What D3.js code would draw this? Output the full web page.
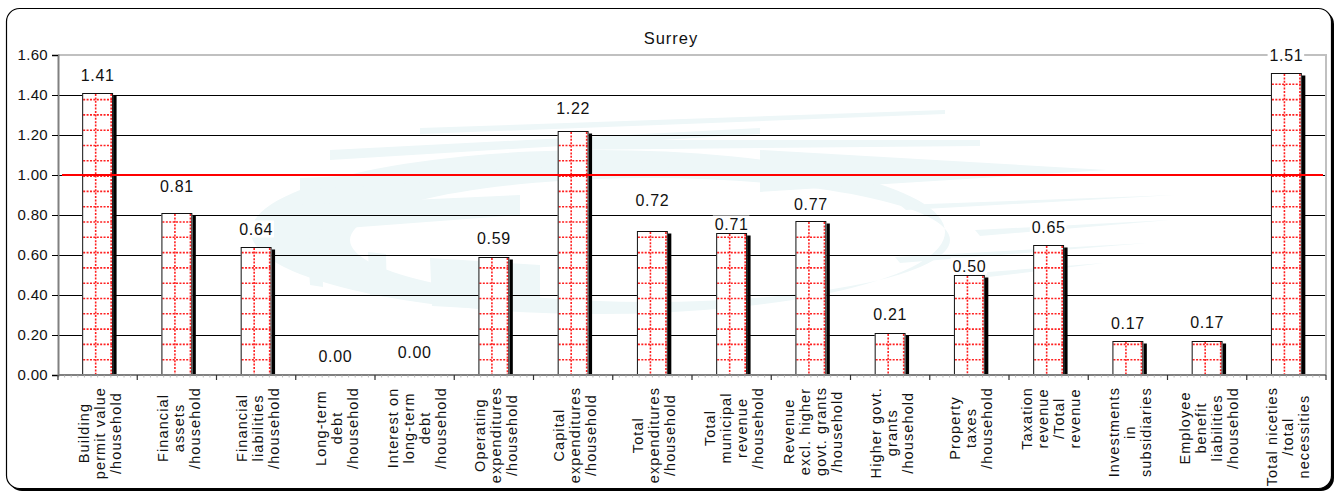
<!DOCTYPE html>
<html>
<head>
<meta charset="utf-8">
<script src="https://cdn.jsdelivr.net/npm/d3@7"></script>
<style>
  html, body { margin: 0; padding: 0; background: #ffffff; }
  svg { display: block; }
  text { font-family: "Liberation Sans", Arial, sans-serif; fill: #111; }
</style>
</head>
<body>
<svg id="chart" width="1338" height="494"></svg>
<script>
// ---- data ----
const chartTitle = "Surrey";
const categories = [
  ["Building", "permit value", "/household"],
  ["Financial", "assets", "/household"],
  ["Financial", "liabilities", "/household"],
  ["Long-term", "debt", "/household"],
  ["Interest on", "long-term", "debt", "/household"],
  ["Operating", "expenditures", "/household"],
  ["Capital", "expenditures", "/household"],
  ["Total", "expenditures", "/household"],
  ["Total", "municipal", "revenue", "/household"],
  ["Revenue", "excl. higher", "govt. grants", "/household"],
  ["Higher govt.", "grants", "/household"],
  ["Property", "taxes", "/household"],
  ["Taxation", "revenue", "/Total", "revenue"],
  ["Investments", "in", "subsidiaries"],
  ["Employee", "benefit", "liabilities", "/household"],
  ["Total niceties", "/total", "necessities"]
];
const values = [1.41, 0.81, 0.64, 0.00, 0.00, 0.59, 1.22, 0.72, 0.71, 0.77, 0.21, 0.50, 0.65, 0.17, 0.17, 1.51];
const yTickValues = [0, 0.2, 0.4, 0.6, 0.8, 1.0, 1.2, 1.4, 1.6];
const referenceValue = 1.00;

// ---- layout ----
const svg = d3.select("#chart");
const plot = { left: 58, top: 55, right: 1326, bottom: 375 };
// distance (px) from bar top to the centre of its value label
const labelGap = [18, 27, 18, 19, 23, 19, 23, 31, 9, 17, 19, 9, 18, 18, 19, 18];

const x = d3.scaleBand()
  .domain(d3.range(categories.length))
  .range([plot.left, plot.right])
  .paddingInner(0.61)
  .paddingOuter(0.305);
const step = x.step();
const y = d3.scaleLinear().domain([0, 1.6]).range([plot.bottom, plot.top]);

// ---- outer rounded frame with drop shadow ----
svg.append("rect").attr("x", 9).attr("y", 11).attr("width", 1325).attr("height", 480)
  .attr("rx", 13).attr("fill", "#000");
svg.append("rect").attr("x", 6.5).attr("y", 8.5).attr("width", 1325).attr("height", 480)
  .attr("rx", 13).attr("fill", "#fff").attr("stroke", "#000").attr("stroke-width", 1.2);

// ---- title ----
svg.append("text").attr("x", 671).attr("y", 44).attr("text-anchor", "middle")
  .style("font-size", "16.5px").style("letter-spacing", "1px").text(chartTitle);

// ---- faint background emblem ----
const defs = svg.append("defs");
defs.append("clipPath").attr("id", "plotClip").append("rect")
  .attr("x", plot.left).attr("y", plot.top)
  .attr("width", plot.right - plot.left).attr("height", plot.bottom - plot.top);
const emblem = svg.append("g").attr("clip-path", "url(#plotClip)")
  .attr("fill", "#eef7f8");
function ellipsePath(cx, cy, rx, ry) {
  return `M${cx - rx},${cy} a${rx},${ry} 0 1,0 ${2 * rx},0 a${rx},${ry} 0 1,0 ${-2 * rx},0 Z`;
}
emblem.append("path").attr("fill-rule", "evenodd")
  .attr("d", ellipsePath(598, 232, 347, 82) + ellipsePath(650, 240, 300, 62));
const streaks = [
  [[420, 128], [945, 110], [945, 114], [420, 134]],
  [[330, 150], [760, 128], [760, 134], [330, 160]],
  [[300, 178], [700, 160], [700, 166], [300, 190]],
  [[760, 150], [1107, 170], [760, 192]],
  [[560, 140], [980, 140], [980, 146], [560, 150]],
  [[900, 205], [1176, 195], [906, 210]],
  [[975, 230], [1170, 220], [980, 236]],
  [[895, 257], [1148, 243], [900, 263]],
  [[975, 273], [1104, 263], [980, 278]],
  [[300, 205], [520, 195], [520, 215], [320, 230]],
  [[307, 238], [322, 240], [323, 287], [310, 285]],
  [[368, 252], [386, 254], [387, 297], [370, 295]],
  [[430, 258], [540, 265], [540, 312], [432, 306]]
];
emblem.selectAll("path.streak").data(streaks).join("path")
  .attr("class", "streak")
  .attr("d", d => "M" + d.map(p => p.join(",")).join("L") + "Z");

// ---- horizontal gridlines ----
const gridG = svg.append("g");
gridG.selectAll("line").data(yTickValues.filter(v => v > 0 && v < 1.6)).join("line")
  .attr("x1", plot.left).attr("x2", plot.right)
  .attr("y1", d => Math.round(y(d)) + 0.5).attr("y2", d => Math.round(y(d)) + 0.5)
  .attr("stroke", "#000").attr("stroke-width", 1);

// plot border (top and right)
svg.append("path")
  .attr("d", `M${plot.left},${plot.top}H${plot.right}V${plot.bottom}`)
  .attr("fill", "none").attr("stroke", "#c0c0c0").attr("stroke-width", 2);

// ---- bars ----
const barsG = svg.append("g");
const bw = x.bandwidth();
values.forEach((v, i) => {
  if (v <= 0) return;
  const bx = x(i), top = y(v), h = plot.bottom - top;
  const g = barsG.append("g");
  // shadow on the right side
  g.append("rect").attr("x", bx + bw).attr("y", top + 2.5)
    .attr("width", 3.5).attr("height", plot.bottom - top - 2.5).attr("fill", "#000");
  g.append("rect").attr("x", bx).attr("y", top).attr("width", bw).attr("height", h)
    .attr("fill", "#fff");
  // red dotted grid fill
  const dots = g.append("g").attr("stroke", "#ff2020").attr("stroke-width", 1.6)
    .attr("stroke-dasharray", "2,1.4");
  for (let vx = bx + 13.5; vx < bx + bw - 0.5; vx += 15.5) {
    dots.append("line").attr("x1", vx).attr("x2", vx).attr("y1", top + 1).attr("y2", plot.bottom);
  }
  for (let hy = plot.bottom - 15.3; hy > top + 2; hy -= 15.3) {
    dots.append("line").attr("x1", bx + 1).attr("x2", bx + bw - 1).attr("y1", hy).attr("y2", hy);
  }
  g.append("rect").attr("x", bx + 0.5).attr("y", top + 0.5).attr("width", bw - 1).attr("height", h - 0.5)
    .attr("fill", "none").attr("stroke", "#111").attr("stroke-width", 1);
});

// ---- reference line at 1.00 ----
svg.append("line")
  .attr("x1", plot.left + 4).attr("x2", plot.right - 3)
  .attr("y1", y(referenceValue)).attr("y2", y(referenceValue))
  .attr("stroke", "#ff0000").attr("stroke-width", 2);

// ---- y axis ----
const yAxis = d3.axisLeft(y).tickValues(yTickValues).tickFormat(d3.format(".2f"))
  .tickSize(6).tickPadding(4);
const yAxisG = svg.append("g").attr("transform", `translate(${plot.left},0)`).call(yAxis);
yAxisG.select(".domain").attr("stroke", "#808080").attr("stroke-width", 2);
yAxisG.selectAll(".tick line").attr("stroke", "#000");
yAxisG.selectAll(".tick text").style("font-size", "15px").style("letter-spacing", "0.3px")
  .attr("fill", "#111").attr("font-family", null);

// ---- x axis ----
const xAxisG = svg.append("g");
xAxisG.append("line").attr("x1", plot.left).attr("x2", plot.right)
  .attr("y1", plot.bottom).attr("y2", plot.bottom)
  .attr("stroke", "#808080").attr("stroke-width", 2);
// minor ticks
const minor = d3.range(plot.left, plot.right, step / 12);
xAxisG.selectAll("line.minor").data(minor).join("line").attr("class", "minor")
  .attr("x1", d => d).attr("x2", d => d).attr("y1", plot.bottom).attr("y2", plot.bottom + 2.5)
  .attr("stroke", "#aaa").attr("stroke-width", 0.8);
// category boundary ticks
xAxisG.selectAll("line.major").data(d3.range(categories.length + 1)).join("line").attr("class", "major")
  .attr("x1", d => plot.left + d * step).attr("x2", d => plot.left + d * step)
  .attr("y1", plot.bottom).attr("y2", plot.bottom + 5)
  .attr("stroke", "#333").attr("stroke-width", 1.2);

// rotated multi-line category labels
categories.forEach((lines, i) => {
  const cx = x(i) + bw / 2;
  const g = svg.append("g").attr("transform", `translate(${cx},387) rotate(-90)`);
  const texts = lines.map((s, j) => g.append("text")
    .attr("y", 7 + (j - (lines.length - 1) / 2) * 16)
    .attr("text-anchor", "middle")
    .style("font-size", "14.5px").style("letter-spacing", "1.1px")
    .text(s));
  const maxW = d3.max(texts, t => t.node().getComputedTextLength());
  texts.forEach(t => t.attr("x", -maxW / 2));
});

// ---- value labels ----
const labelsG = svg.append("g");
values.forEach((v, i) => {
  const cx = x(i) + bw / 2;
  const cy = y(v) - labelGap[i];
  const g = labelsG.append("g");
  const bg = g.append("rect").attr("fill", "#fff");
  const t = g.append("text").attr("x", cx).attr("y", cy + 5.8).attr("text-anchor", "middle")
    .style("font-size", "16px").style("letter-spacing", "0.6px")
    .text(d3.format(".2f")(v));
  const bb = t.node().getBBox();
  bg.attr("x", bb.x - 2).attr("y", cy - 8.5).attr("width", bb.width + 3).attr("height", 17);
});
</script>
</body>
</html>
